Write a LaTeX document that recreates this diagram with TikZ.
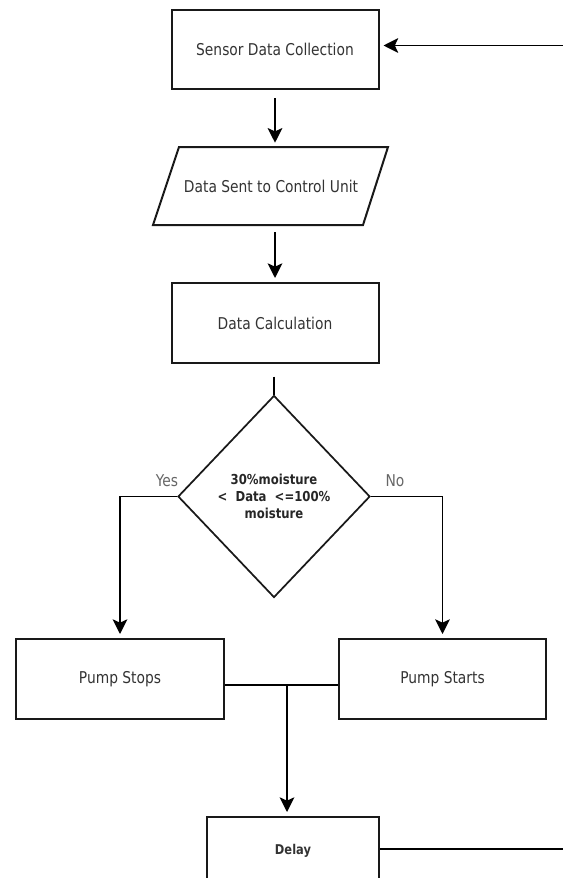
\documentclass[tikz,border=0pt]{standalone}
\usepackage{fontspec}
\setmainfont{DejaVu Sans}
\newfontfamily\narrowfont[FakeStretch=0.85]{DejaVu Sans}
\usetikzlibrary{shapes.geometric,arrows.meta,calc}
\begin{document}
\begin{tikzpicture}[x=0.75pt,y=-0.75pt,
  boxline/.style={draw=black!90,line width=1.5pt},
  box/.style={boxline,minimum width=155.25pt,minimum height=60pt,inner sep=0pt,
    font=\narrowfont\fontsize{12.2}{14}\selectfont,text=black!80},
  plain/.style={inner sep=0pt,font=\narrowfont\fontsize{12.2}{14}\selectfont,text=black!80},
  lbl/.style={inner sep=0pt,font=\narrowfont\fontsize{12.2}{14}\selectfont,text=black!60},
  conn/.style={line width=1.4pt,draw=black},
  arr/.style={conn,-{Stealth[length=11pt,width=11pt,inset=2.5pt]},shorten >=3pt}]
\useasboundingbox (0,0) rectangle (563,878);
\clip (0,0) rectangle (563,878);

% nodes
\node[box,minimum height=59.25pt] (s1) at (275,49.5) {Sensor Data Collection};
\draw[boxline] (179,147) -- (388,147) -- (363,225) -- (153,225) -- cycle;
\node[plain,minimum height=58.5pt] (s2) at (271,186) {Data Sent to Control Unit};
\node[box] (s3) at (275,323) {Data Calculation};
\node[diamond,draw=black!90,line width=1.3pt,inner sep=0pt,aspect=1,
  minimum width=144pt,minimum height=151.5pt,align=center,
  font=\narrowfont\fontsize{10.3}{13}\selectfont\bfseries,text=black!85] (d) at (274,496.5)
  {30\%moisture\\[-0.5pt]<\ \ Data\ \ <=100\%\\[-0.5pt]moisture};
\node[box,minimum width=156pt] (ps) at (120,679) {Pump Stops};
\node[box] (pst) at (442.5,679) {Pump Starts};
\node[box,minimum width=129pt,minimum height=51pt,
  font=\narrowfont\fontsize{10.1}{12}\selectfont\bfseries] (dl) at (293,851) {Delay};
\node[lbl] (yes) at (167,481) {Yes};
\node[lbl] (no) at (395,481) {No};

% connectors
\coordinate (in) at (563,45.5);
\draw[arr] (in) -- (in -| s1.east);
\draw[arr] ($(s1.south)+(0,8)$) -- (s1.south |- s2.north);
\draw[arr] ($(s1.south |- s2.south)+(0,7)$) -- (s3.north);
\draw[conn] ($(d.north)+(0,-18)$) -- (d.north);
\draw[arr] (d.west) -| (ps.north);
\draw[arr] (d.east) -| (pst.north);
\coordinate (j) at (287,685);
\draw[conn] (ps.east |- j) -- (pst.west |- j);
\draw[arr] (j) -- (j |- dl.north);
\coordinate (out) at (563,849);
\draw[conn] (dl.east |- out) -- (out);
\end{tikzpicture}
\end{document}
